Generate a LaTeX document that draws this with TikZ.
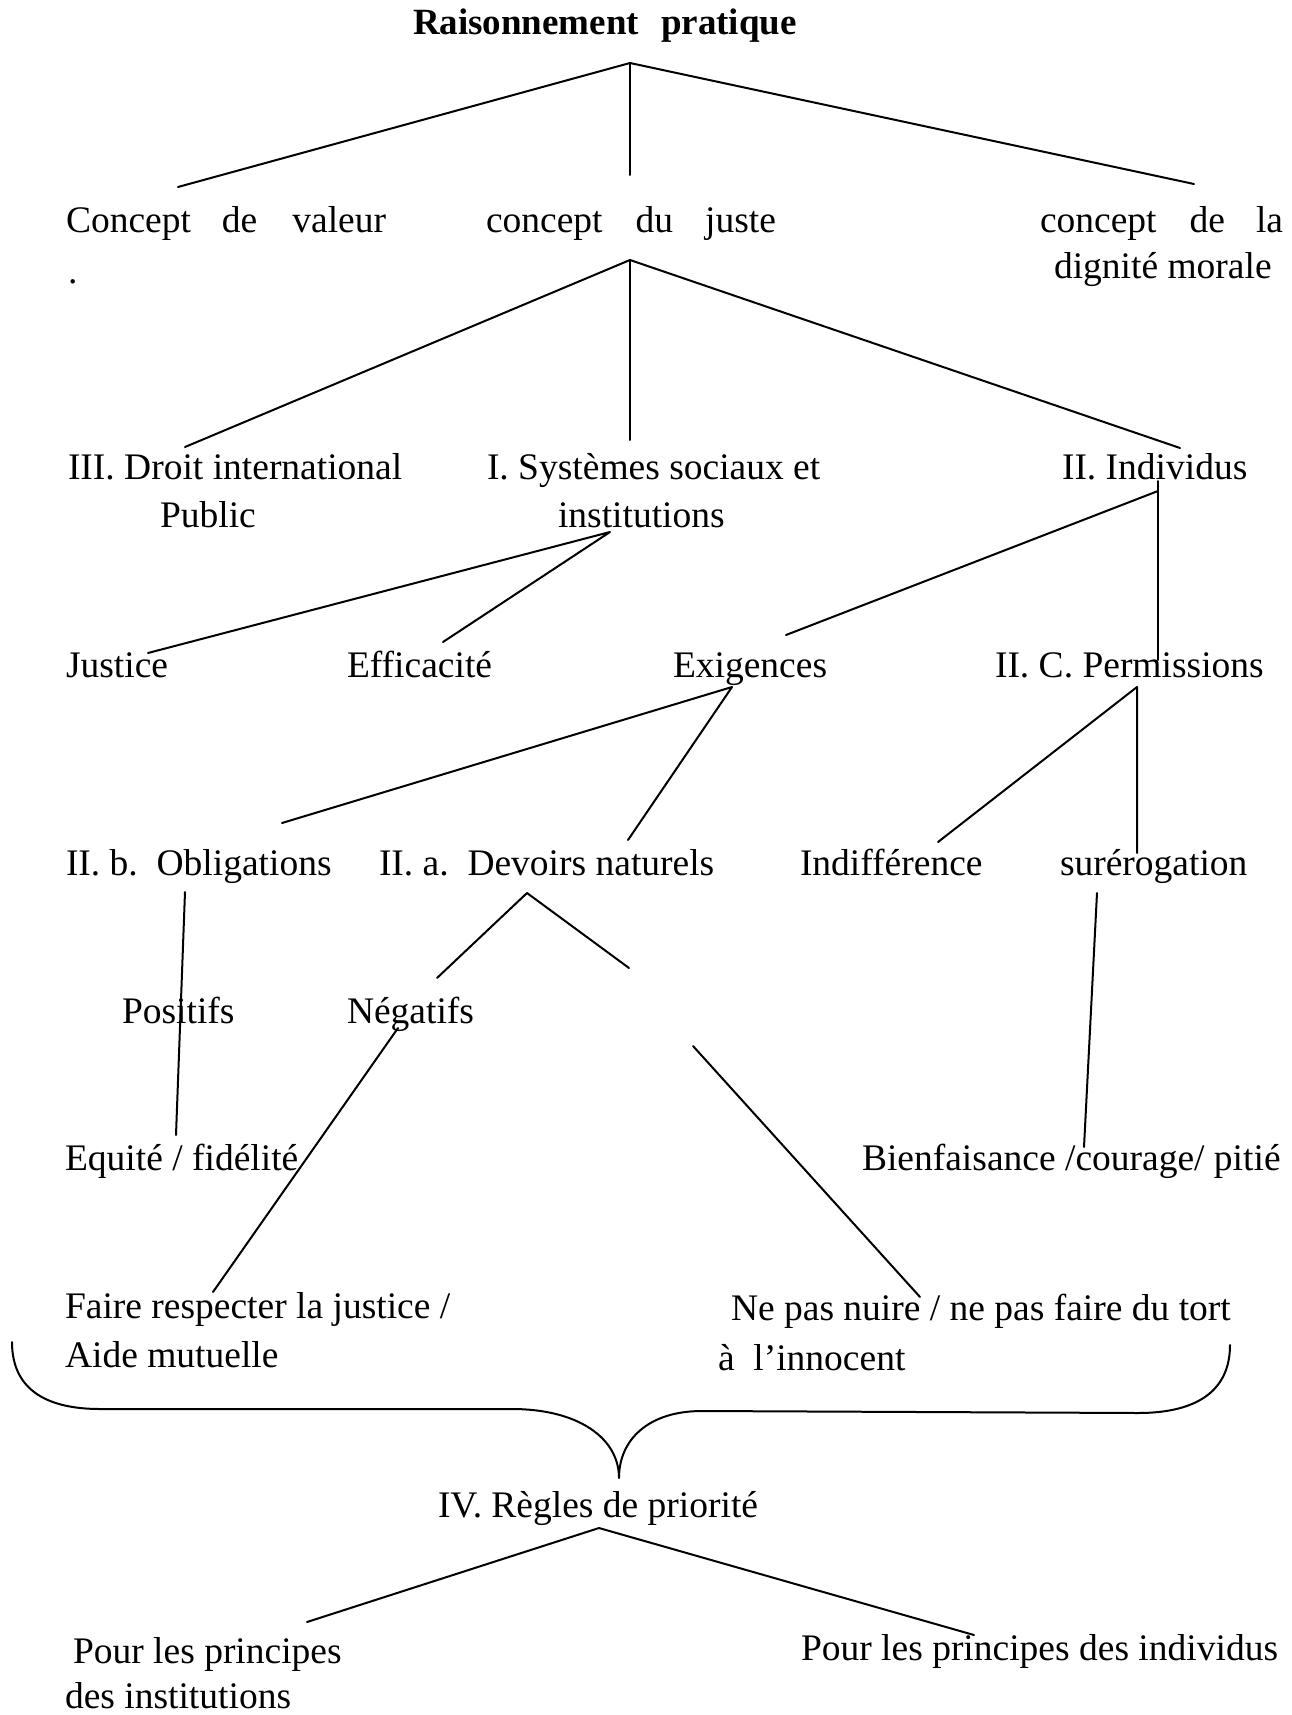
\documentclass[tikz,border=0pt]{standalone}
\usepackage{fontspec}
\setmainfont{Liberation Serif}
\begin{document}
\begin{tikzpicture}[x=1pt,y=-1pt,
  lbl/.style={inner sep=0pt, outer sep=0pt, anchor=base west, font=\fontsize{37.5}{45}\selectfont},
  ttl/.style={inner sep=0pt, outer sep=0pt, anchor=base west, font=\fontsize{37}{44}\selectfont\bfseries},
  conn/.style={line width=2pt, line cap=round, line join=round}]
\useasboundingbox[fill=white] (0,0) rectangle (1292,1715);

% ---- text nodes
\node[ttl] (title) at (413,35) {Raisonnement\hspace{22pt}pratique};
\node[lbl] (cv) at (66,232) {Concept\hspace{31pt}de\hspace{35pt}valeur};
\node[lbl] (dot) at (68,283) {.};
\node[lbl] (cj) at (486,232) {concept\hspace{33pt}du\hspace{32pt}juste};
\node[lbl] (cdm) at (1040,232) {concept\hspace{33pt}de\hspace{31pt}la};
\node[lbl] (cdm2) at (1054,278) {dignité morale};
\node[lbl] (dip) at (68,479) {III. Droit international};
\node[lbl] (dip2) at (160,527) {Public};
\node[lbl] (ssi) at (487,479) {I. Systèmes sociaux et};
\node[lbl] (ssi2) at (558,527) {institutions};
\node[lbl] (ind) at (1062,479) {II. Individus};
\node[lbl] (jus) at (66,677) {Justice};
\node[lbl] (eff) at (347,677) {Efficacité};
\node[lbl] (exi) at (673,677) {Exigences};
\node[lbl] (per) at (995,677) {II. C. Permissions};
\node[lbl] (obl) at (66,875) {II. b.~~Obligations};
\node[lbl] (dev) at (379,875) {II. a.~~Devoirs naturels};
\node[lbl] (indf) at (800,875) {Indifférence};
\node[lbl] (sur) at (1060,875) {surérogation};
\node[lbl] (pos) at (122,1023) {Positifs};
\node[lbl] (neg) at (347,1023) {Négatifs};
\node[lbl] (equ) at (65,1170) {Equité / fidélité};
\node[lbl] (bien) at (862,1170) {Bienfaisance /courage/ pitié};
\node[lbl] (faire) at (65,1318) {Faire respecter la justice /};
\node[lbl] (aide) at (65,1367) {Aide mutuelle};
\node[lbl] (nuire) at (731,1320) {Ne pas nuire / ne pas faire du tort};
\node[lbl] (inno) at (718,1370) {à~~l’innocent};
\node[lbl] (reg) at (438,1517) {IV. Règles de priorité};
\node[lbl] (pp1) at (73,1663) {Pour les principes};
\node[lbl] (pp2) at (65,1708) {des institutions};
\node[lbl] (ppi) at (801,1660) {Pour les principes des individus};

% ---- connector points
\coordinate (a0) at (630,63);
\coordinate (a0l) at (178,187);
\coordinate (a0c) at (630,175);
\coordinate (a0r) at (1194,184);
\coordinate (a1) at (630,260);
\coordinate (a1l) at (185,447);
\coordinate (a1c) at (630,440);
\coordinate (a1r) at (1180,448);
\coordinate (a2) at (610,532);
\coordinate (a2l) at (148,653);
\coordinate (a2r) at (443,642);
\coordinate (a3t) at (1158,481);
\coordinate (a3) at (1158,491);
\coordinate (a3b) at (1158,660);
\coordinate (a3l) at (786,635);
\coordinate (a4) at (732,687);
\coordinate (a4l) at (282,823);
\coordinate (a4r) at (628,840);
\coordinate (a5) at (1137,687);
\coordinate (a5l) at (938,842);
\coordinate (a5b) at (1137,853);
\coordinate (ob1) at (185,892);
\coordinate (ob2) at (176,1135);
\coordinate (a6) at (527,893);
\coordinate (a6l) at (437,978);
\coordinate (a6r) at (629,968);
\coordinate (ng1) at (398,1028);
\coordinate (ng2) at (213,1292);
\coordinate (nr1) at (693,1046);
\coordinate (nr2) at (920,1297);
\coordinate (su1) at (1097,893);
\coordinate (su2) at (1084,1147);
\coordinate (a7) at (599,1528);
\coordinate (a7l) at (307,1622);
\coordinate (a7r) at (974,1635);
\coordinate (bl) at (12,1342);
\coordinate (br) at (1230,1345);
\coordinate (bt) at (619,1478);

% ---- connectors
\draw[conn] (a0l) -- (a0) -- (a0r);
\draw[conn] (a0) -- (a0c);
\draw[conn] (a1l) -- (a1) -- (a1r);
\draw[conn] (a1) -- (a1c);
\draw[conn] (a2l) -- (a2) -- (a2r);
\draw[conn] (a3t) -- (a3b);
\draw[conn] (a3) -- (a3l);
\draw[conn] (a4l) -- (a4) -- (a4r);
\draw[conn] (a5l) -- (a5) -- (a5b);
\draw[conn] (ob1) -- (ob2);
\draw[conn] (a6l) -- (a6) -- (a6r);
\draw[conn] (ng1) -- (ng2);
\draw[conn] (nr1) -- (nr2);
\draw[conn] (su1) -- (su2);
\draw[conn] (a7l) -- (a7) -- (a7r);

% ---- brace
\draw[conn] (bl) .. controls (12,1392) and (50,1409) .. (100,1409)
  -- (512,1409) .. controls (578,1409) and (619,1438) .. (bt)
  .. controls (619,1440) and (648,1411) .. (702,1411)
  -- (1138,1413) .. controls (1198,1413) and (1230,1390) .. (br);
\end{tikzpicture}
\end{document}
